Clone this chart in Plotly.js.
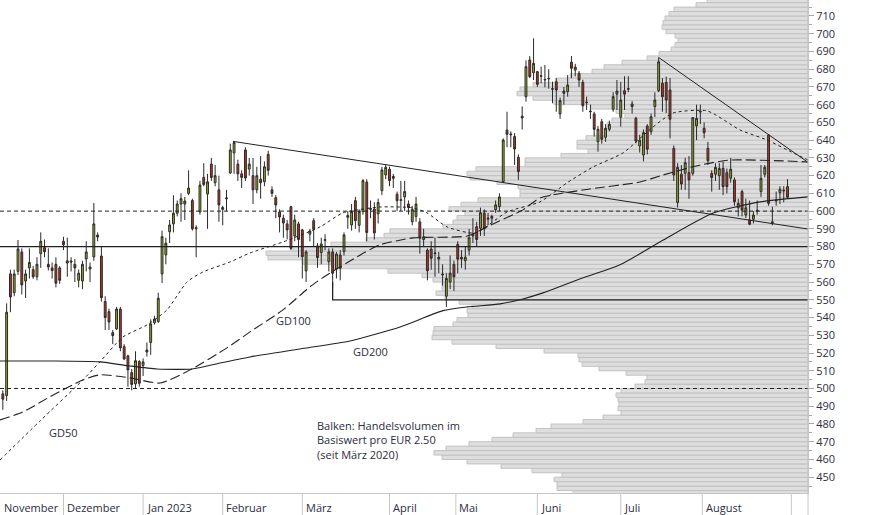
<!DOCTYPE html>
<html><head><meta charset="utf-8">
<script src="https://cdn.plot.ly/plotly-3.0.1.min.js"></script>
<style>html,body{margin:0;padding:0;background:#fff}#chart{width:874px;height:515px}</style>
</head><body><div id="chart"></div>
<script>
// ---------- candle data (trading-day index, 0 = 1 Dec 2022) ----------
const firstDay = -16;
const open  = [497,496,564.6,554,566,577,560.6,568,567,563,576,579.4,570,568,570,568,
583,570.7,571.9,570,561,560.6,573,567.4,574.2,586.5,574.7,549,543.3,531.5,533.6,544.8,523.6,518.4,509,502.6,515.2,
513,521.7,525.9,537,537.7,564.6,575.3,588.4,592.8,598.8,604,604,610,606,590,599.5,619,609.6,626.5,616,612,601,
607,621.5,632.8,626.5,621,634.5,623.7,620,612,618,616.6,632,612,607.6,599.5,596,592.8,602.5,586,592.8,
589.4,566.3,587,594.6,580.4,576.6,583.5,571.5,577,567.4,575.3,577.1,596.5,592.2,605.9,592,599.7,616.4,601,601.2,598.4,611.5,620.4,
623.6,619.5,609.5,606,608,604,594,597,593.9,584,578,578.6,576,574,564,552,560,570,
581.3,574,572,578,586,591.2,590.3,599,595.5,597,600.8,602.5,616.6,645.7,643,642,630.3,652.5,664.5,685.2,678,
678.6,676,673.9,674.5,668.7,672.9,654.8,667.7,667.3,683.9,679.5,677.7,672.6,661.1,656,654.8,639.1,650.4,641.6,646.1,657.4,665.9,
652.9,667.9,668.7,660.4,652.3,636.7,631.6,648,644.8,658.9,667.9,672.1,672.6,668.3,635.4,604.8,620.8,621.3,621.7,621.3,648,
655.8,646.7,635.4,621.3,620.8,620,624.1,621.7,618.5,617.6,601.9,611,597.8,595,595.4,600,611,620.8,642.9,593.5,605.7,610.4,611.3,613.8];
const high  = [499,548,567,567,583.7,579,567,579,569,574,588,584,579,571,574,569,
585.5,585,574,573,567,572,583,571,604.6,588,580,552,545,533,546,546,525,519,511,521,516,
517,526,539,541,554,589,585,595,609,606,610,608,623,607,592,617,627,621,630,626,620,603,
612,638,639.5,629,623,636,630,630,625,631,628,634,614,609,601,598,595,603,598,594,
590,578,590,596,582,585,587,579,579,577,578,588,600,604,608,601,618,618,606,605,607,625,626,
625,621,611,617,617,606,603,608,596,590,579,583,585,577,570,565,575,572,
583,578,580,590,596,594,602,601,599,598,606,610,641,656,645,644,632,659,685,687.4,697.4,
679,681.4,682.4,680,673,675,664,670,676.7,687.4,683,679,674,664.5,660,656,648,652,649,651,667,673.9,
672.9,676,676,662,653.2,643,646,649,655,667,686.6,675,675.8,675,637,627,626,630,631,653,660,
660,650,639,623,627,627,628,624,630,619,607,612,607,606,600,606,626,626,643,602.5,611,614,614,618];
const low   = [488,493,543,552,564,553,551,562,561.8,561,568,574,566.5,562,557,559,
578,563,566,560,557,556,566,560,572,583,549,533,533,525,533,521,516,501,499,500,501,
507,518,519,536,537,559.5,570,582,588,597,594,595,609,589,574,598,614,590,617,614,594,592,
600,621,621,617,613,617,620,604,610,607,614,620,608,596,588,585,584,578,583,574,
562,560,583,580,568,570,578,566,557,562,561,575,590,589,590,588,598,583,596,584,593,609,618,
614,613,600,600,600,598,592,594,576,580,561,567,563,565,558,546,556,555,
565,568,567,575,582,580,586,586,592,593,599,600,616,636,636,626,617.6,646,661.7,675,673.9,
670,672,669.8,669,660.8,656,652,660,664.5,674.9,676,670,656,657,652,642,633.5,638,639,645,656,657,
647.6,657,667,655,638.2,633,628,632,643,653,667,656,655.3,641,617,602,612,612,607,620,640,
649,641,626,611,617,612,609,610,616,603,597,597,596,592,593,598,608,619,603,592,603,604,605,607];
const close = [494,543,551.6,564.6,578.7,558.4,564.6,571,563,570,583,577.1,568.5,566.5,559.4,561,
581,572,571.3,568,565,570,577,568.5,592.8,585.4,551.2,540,537.5,529.8,544.8,522.9,516.7,510.5,502.3,515.7,503,
515,520.6,536.4,539.2,550.9,585.6,581.9,592.2,598.8,604,607,605.7,613,590,590.6,614.7,615,616.5,619,620,603.5,602,
607.4,634.5,638.6,621,619,618.7,626.5,612,620,616,625,623,610,603.5,596.7,593.3,589.4,579,595,584,
574.3,577,588.8,589.8,573.8,581.5,583.9,577,565,575.8,567.8,586.6,597.5,599.7,594.6,599.7,617.2,587.9,601.4,587.7,604.8,623.2,624.7,
617.2,618.5,605.9,606.4,611,602,601,604,584.7,585.5,566.4,573.4,576.4,573,564.4,562,565,563,
572.9,573,574,585,587,584,599.1,590,596,596,603.5,608,640.1,643.3,643.4,635,622.3,653.5,681.4,675.8,683.3,
671.5,676.3,674.2,674.8,669,668.3,662.3,666.4,671.1,680.5,681.2,673.9,659.4,661.4,656.3,646.1,646.1,640.5,646.7,648.9,664.5,667.7,
662.6,665.9,669,658.9,639.5,640,644.2,634.9,653.2,662.6,684.2,664.5,662.6,651.8,620.4,624.7,615.3,627.3,617.6,652.7,652.3,
656.2,644.2,628.4,618.9,624.7,624,613.8,613.8,623.6,605.3,604.4,600.6,601.9,592.6,597.8,600.4,618.5,624.7,604.4,593.9,606.1,612.3,611.7,607.8];
const days = open.map((_, k) => firstDay + k);

// ---------- volume profile (bars of EUR 2.50, relative volume) ----------
const volBinLow = 440, volBinSize = 2.5;
const volume = [235,251,251,254, 246,276,307,341, 366,374,362,339, 316,295,272,257, 225,205,187,190,
189,190,192,187, 173,163,161,182, 209,226,229,230, 264,312,356,376, 375,374,355,351, 340,341,336,349,
363,372,366,366, 375,386,420,476, 505,540,542,515, 477,442,424,418, 365,355,351,343, 359,347,330,288,
288,290,311,338, 341,332,283,283, 247,220,231,231, 222,202,202,201, 196,183,192,217, 254,275,291,288,
275,252,238,216, 204,186,161,149, 137,133,130,133, 142,146,145,143, 139,134,112,101];
const volPrice = volume.map((_, k) => volBinLow + volBinSize * (k + 0.5));
const volAxisMax = 808;

// ---------- moving averages ----------
const gd50Day   = [-16.75,-6.2,5.1,9.6,15.7,22,27.3,32.6,36.8,43.9,49.2,57.9,67.7,73.7,83.5,92.2,95.9,101.2,108.6,117,125.7,132.8,139.7,147.6,155.5,160.8,169.8,178.5,185.6,190.9,196.4];
const gd50Val   = [459.7,481.7,504.8,515,529.1,535.8,544.3,560.1,565.7,571.3,576.4,582.6,591.1,599,602.3,601.8,599,591.1,587.7,599.5,605.2,615.9,624.9,632.8,647.4,655.3,656.5,645.7,640.1,634.5,628.8];
const gd100Day  = [-16.75,-10.7,-3.6,5.1,9.6,17.5,25.5,33.4,43.1,49.2,57.9,65,69.5,77.4,83.5,92.2,106.5,112.5,121.2,125.7,138.9,152.1,158.2,168,175.9,189.8,196.4];
const gd100Val  = [482.3,486.8,495.3,504.8,507.7,506,503.1,510.5,522.9,531.9,544.3,557.3,564,574.2,581,584.9,586,592,600.7,607.4,612.5,616.4,620.4,626,628.8,628.3,627.7];
const gd200Day  = [-16.75,-3.6,9.6,17.5,24.7,33.9,41.3,49.2,62.4,75.6,88.8,100.1,106.5,115.2,121.2,126.5,135.5,146.8,158.2,171.4,183.8,196.4];
const gd200Val  = [515.5,515.5,515,512.7,511,511,514.4,517.8,522.3,526.8,534.7,543.9,546,547.7,550.5,553.9,561.2,569.7,583.7,598.9,605.2,608];

// ---------- drawn analysis lines ----------
const trendA = {day: [44.7, 196.4], val: [639.3, 589.9]};
const trendB = {day: [157, 196.4], val: [686.6, 627.5]};
const supportDay = [71, 71, 196.4], supportVal = [560, 550, 550];
const levelSolid = [580];
const levelDashed = [600, 500];

// ---------- axis labels ----------
const dayRange = [-16.75, 196.4];
const priceRange = [441.1, 719.0];
const monthStart = [-22, 0, 21, 42, 63, 86, 103.5, 125, 147, 168.5, 192];
const monthLabel = ['November','Dezember','Jan 2023','Februar','März','April','Mai','Juni','Juli','August',''];
const priceTicks = [];
for (let p = 450; p <= 710; p += 10) priceTicks.push(p);

const FONT = '"Open Sans", "Noto Sans", sans-serif';
const TXT = '#2b2d40';
const AX = '#c6c6c6';

const traces = [];
traces.push({type:'bar', orientation:'h', x: volume, y: volPrice, width: volBinSize,
  xaxis:'x', yaxis:'y', marker:{color:'#dedede', line:{color:'#c2c2c2', width:1}}, hoverinfo:'skip'});

function line(d, v, opt) {
  traces.push(Object.assign({type:'scatter', mode:'lines', x:d, y:v, xaxis:'x2', yaxis:'y',
    hoverinfo:'skip', line:{color:'#222', width:1}}, opt||{}));
}
levelDashed.forEach(l => line(dayRange, [l,l], {line:{color:'#222', width:1, dash:'4px,3px'}}));
levelSolid.forEach(l => line(dayRange, [l,l], {line:{color:'#222', width:1.3}}));
line(supportDay, supportVal, {line:{color:'#222', width:1.3}});
line(gd200Day, gd200Val, {line:{color:'#222', width:1.1, shape:'spline', smoothing:0.6}});
line(gd100Day, gd100Val, {line:{color:'#222', width:1.1, dash:'10px,4px', shape:'spline', smoothing:0.6}});
line(gd50Day, gd50Val, {line:{color:'#222', width:1, dash:'3px,3px', shape:'spline', smoothing:0.6}});
line(trendA.day, trendA.val, {line:{color:'#222', width:1}});
line(trendB.day, trendB.val, {line:{color:'#222', width:1}});

traces.push({type:'candlestick', x: days, open, high, low, close, xaxis:'x2', yaxis:'y',
  whiskerwidth: 0, hoverinfo:'skip',
  increasing:{line:{color:'#2a2a2a', width:1}, fillcolor:'#95aa1c'},
  decreasing:{line:{color:'#2a2a2a', width:1}, fillcolor:'#c1321f'}});

const W = 808, H = 493, bottomBand = 22;
const frac = d => (d - dayRange[0]) / (dayRange[1] - dayRange[0]);
const shapes = [];
const annotations = [];
monthStart.forEach((m, k) => {
  const f = frac(m);
  if (f >= 0 && f <= 1) {
    shapes.push({type:'line', xref:'paper', yref:'paper', x0:f, x1:f, y0:0, y1:-bottomBand/H,
      line:{color:AX, width:1}});
  }
  if (monthLabel[k]) {
    annotations.push({xref:'paper', yref:'paper', x: Math.max(f, 0), y:0, xanchor:'left', yanchor:'top',
      xshift: 1.5, yshift:-5, showarrow:false, text: monthLabel[k], font:{family:FONT, size:11, color:TXT}});
  }
});
shapes.push({type:'line', xref:'paper', yref:'paper', x0:1, x1:1, y0:1, y1:-bottomBand/H, line:{color:AX, width:1}});

const lbl = (t, d, p, anchor) => annotations.push({xref:'x2', yref:'y', x:d, y:p, text:t, showarrow:false,
  xanchor: anchor||'center', yanchor:'middle', font:{family:FONT, size:11, color:TXT}});
lbl('GD50', 0, 475);
lbl('GD100', 60.6, 538.1);
lbl('GD200', 81, 520.6);
annotations.push({xref:'x2', yref:'y', x:66.4, y:484.5, xanchor:'left', yanchor:'top', align:'left',
  showarrow:false, text:'Balken: Handelsvolumen im<br>Basiswert pro EUR 2.50<br>(seit März 2020)',
  font:{family:FONT, size:11, color:TXT}});

const layout = {
  width:874, height:515, margin:{l:0, r:874-W, t:0, b:bottomBand, pad:0},
  paper_bgcolor:'#fff', plot_bgcolor:'#fff', showlegend:false, bargap:0, boxgap:0.3,
  xaxis:{range:[volAxisMax, 0], showline:true, linecolor:AX, linewidth:1, showgrid:false, zeroline:false,
    showticklabels:false, ticks:'', fixedrange:true},
  xaxis2:{overlaying:'x', range:dayRange, visible:false, rangeslider:{visible:false}, fixedrange:true},
  yaxis:{range:priceRange, side:'right', tickvals:priceTicks, ticks:'outside', ticklen:5, tickcolor:'#a8a8a8',
    showline:true, linecolor:AX, showgrid:false, zeroline:false, fixedrange:true,
    tickfont:{family:FONT, size:11, color:TXT},
    minor:{dtick:5, tick0:0, ticks:'outside', ticklen:3, tickcolor:'#a8a8a8', showgrid:false}},
  shapes, annotations
};
Plotly.newPlot('chart', traces, layout, {staticPlot:true, displayModeBar:false});
</script></body></html>
